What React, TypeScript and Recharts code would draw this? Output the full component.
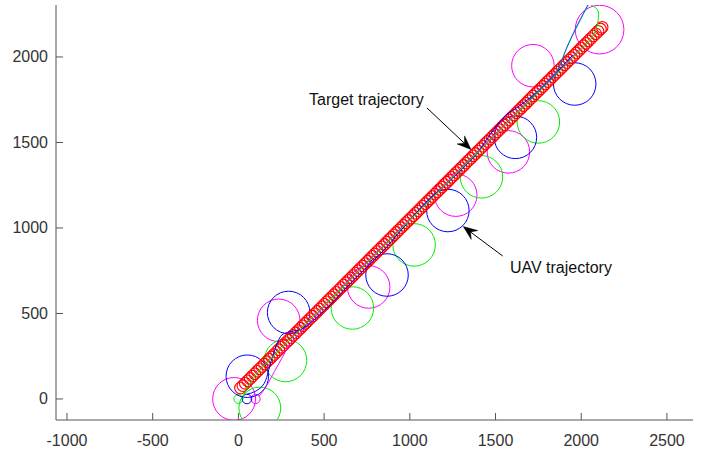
import { ScatterChart, Scatter, XAxis, YAxis, ReferenceLine, ReferenceDot } from 'recharts';

// target (red circle markers)
const targetX = [
  12, 26, 40, 54, 68, 82, 96, 110, 124, 138,
  152, 166, 180, 194, 208, 222, 236, 250, 264, 278,
  292, 306, 320, 334, 348, 362, 376, 390, 404, 418,
  432, 446, 460, 474, 488, 502, 516, 530, 544, 558,
  572, 586, 600, 614, 628, 642, 656, 670, 684, 698,
  712, 726, 740, 754, 768, 782, 796, 810, 824, 838,
  852, 866, 880, 894, 908, 922, 936, 950, 964, 978,
  992, 1006, 1020, 1034, 1048, 1062, 1076, 1090, 1104, 1118,
  1132, 1146, 1160, 1174, 1188, 1202, 1216, 1230, 1244, 1258,
  1272, 1286, 1300, 1314, 1328, 1342, 1356, 1370, 1384, 1398,
  1412, 1426, 1440, 1454, 1468, 1482, 1496, 1510, 1524, 1538,
  1552, 1566, 1580, 1594, 1608, 1622, 1636, 1650, 1664, 1678,
  1692, 1706, 1720, 1734, 1748, 1762, 1776, 1790, 1804, 1818,
  1832, 1846, 1860, 1874, 1888, 1902, 1916, 1930, 1944, 1958,
  1972, 1986, 2000, 2014, 2028, 2042, 2056, 2070, 2084, 2098,
  2112, 2122,
];
const targetY = [
  64, 78, 92, 106, 120, 134, 148, 162, 176, 190,
  204, 218, 232, 246, 260, 274, 288, 302, 316, 330,
  344, 358, 372, 386, 400, 414, 428, 442, 456, 470,
  484, 498, 512, 526, 540, 554, 568, 582, 596, 610,
  624, 638, 652, 666, 680, 694, 708, 722, 736, 750,
  764, 778, 792, 806, 820, 834, 848, 862, 876, 890,
  904, 918, 932, 946, 960, 974, 988, 1002, 1016, 1030,
  1044, 1058, 1072, 1086, 1100, 1114, 1128, 1142, 1156, 1170,
  1184, 1198, 1212, 1226, 1240, 1254, 1268, 1282, 1296, 1310,
  1324, 1338, 1352, 1366, 1380, 1394, 1408, 1422, 1436, 1450,
  1464, 1478, 1492, 1506, 1520, 1534, 1548, 1562, 1576, 1590,
  1604, 1618, 1632, 1646, 1660, 1674, 1688, 1702, 1716, 1730,
  1744, 1758, 1772, 1786, 1800, 1814, 1828, 1842, 1856, 1870,
  1884, 1898, 1912, 1926, 1940, 1954, 1968, 1982, 1996, 2010,
  2024, 2038, 2052, 2066, 2080, 2094, 2108, 2122, 2136, 2150,
  2164, 2174,
];

// sensing circles [x, y, radius]
const blueRings = [[50, 0, 28], [52, 133, 124], [293, 506, 124], [867, 725, 124], [1222, 1102, 124], [1616, 1530, 124], [1962, 1842, 124]];
const greenRings = [[0, 0, 26], [125, -53, 122], [275, 225, 124], [665, 532, 124], [1025, 901, 124], [1418, 1299, 124], [1750, 1620, 124]];
const magentaRings = [[100, 0, 27], [-25, 0, 125], [235, 460, 124], [760, 655, 124], [1268, 1192, 124], [1575, 1445, 124], [1718, 1949, 124], [2107, 2160, 142]];

// UAV tracks [x, y]
const blueTrack = [
  [50, 28], [100, 45], [150, 90], [177, 170], [210, 280], [245, 364], [275, 385], [303, 394], [340, 400],
  [380, 415], [450, 470], [560, 575], [673, 696], [780, 800], [870, 895], [960, 1000], [1062, 1115],
  [1120, 1175], [1200, 1245], [1300, 1340], [1393, 1437], [1450, 1520], [1509, 1600], [1560, 1660],
  [1604, 1690], [1700, 1760], [1800, 1850], [1880, 1935], [1950, 2010],
];
const greenTrack = [
  [26, 0], [40, 40], [80, 110], [150, 195], [250, 295], [400, 445], [600, 645], [800, 845], [1000, 1045],
  [1200, 1245], [1400, 1445], [1600, 1645], [1800, 1845], [2000, 2045], [2060, 2110], [2085, 2160],
  [2097, 2205], [2102, 2246], [2095, 2276], [2078, 2292], [2054, 2306],
];
const magentaTrack = [
  [120, 15], [160, 70], [210, 160], [260, 250], [300, 320], [345, 370], [420, 450], [600, 650], [800, 850],
  [1000, 1050], [1200, 1250], [1400, 1450], [1600, 1650], [1800, 1850], [2000, 2050],
];
const tealTrack = [[1700, 1750], [1780, 1830], [1840, 1890], [1880, 1960], [1910, 2040], [1960, 2150], [2000, 2230], [2045, 2315]];

const xTicks = [-1000, -500, 0, 500, 1000, 1500, 2000, 2500];
const yTicks = [0, 500, 1000, 1500, 2000];

const X_MIN = -1064;
const X_MAX = 2652;
const Y_MIN = -123;
const Y_MAX = 2304;
const PLOT_W = 637;
const PX_PER_UNIT = PLOT_W / (X_MAX - X_MIN);

const FONT = '"Liberation Sans", Arial, Helvetica, sans-serif';
const AXIS = '#555555';
const TEXT = '#333333';

const targetData = targetX.map((x, i) => ({ x, y: targetY[i] }));
const toRings = (rows: number[][]) => rows.map(([x, y, r]) => ({ x, y, r }));
const toPts = (rows: number[][]) => rows.map(([x, y]) => ({ x, y }));

const ring = (color: string) => (p: any) => (
  <circle cx={p.cx} cy={p.cy} r={p.payload.r * PX_PER_UNIT} fill="none" stroke={color} strokeWidth={1} />
);
const marker = (p: any) => <circle cx={p.cx} cy={p.cy} r={5.8} fill="none" stroke="#ff0000" strokeWidth={1.1} />;
const noDot = () => <g />;

const XTick = ({ x, y, payload }: any) => (
  <g>
    <line x1={x} y1={y} x2={x} y2={y - 7} stroke={AXIS} />
    <text x={x} y={y + 20} textAnchor="middle" dominantBaseline="central" fill={TEXT} fontSize={16} fontFamily={FONT}>
      {payload.value}
    </text>
  </g>
);

const YTick = ({ x, y, payload }: any) => (
  <g>
    <line x1={x} y1={y} x2={x + 7} y2={y} stroke={AXIS} />
    <text x={x - 8} y={y} textAnchor="end" dominantBaseline="central" fill={TEXT} fontSize={16} fontFamily={FONT}>
      {payload.value}
    </text>
  </g>
);

const Arrow = (p: any) => {
  const { x1, y1, x2, y2 } = p;
  const a = Math.atan2(y2 - y1, x2 - x1);
  const c = Math.cos(a);
  const s = Math.sin(a);
  const L = 14;
  const W = 5.5;
  const N = 9;
  const bx = x2 - L * c;
  const by = y2 - L * s;
  const nx = x2 - N * c;
  const ny = y2 - N * s;
  const pts = `${x2},${y2} ${bx - W * s},${by + W * c} ${nx},${ny} ${bx + W * s},${by - W * c}`;
  return (
    <g>
      <line x1={x1} y1={y1} x2={nx} y2={ny} stroke="#000" strokeWidth={1} />
      <polygon points={pts} fill="#000" stroke="#000" strokeWidth={0.5} />
    </g>
  );
};

const label = (text: string, anchor: 'start' | 'middle') => (p: any) => (
  <text x={p.cx} y={p.cy} textAnchor={anchor} dominantBaseline="central" fill="#111" fontSize={16} fontFamily={FONT}>
    {text}
  </text>
);

export default function App() {
  return (
    <div style={{ position: 'absolute', left: 0, top: 0, background: '#fff' }}>
      <ScatterChart width={704} height={451} margin={{ top: 5, right: 11, bottom: 0, left: 0 }}>
        <XAxis
          type="number"
          dataKey="x"
          domain={[X_MIN, X_MAX]}
          allowDataOverflow
          ticks={xTicks}
          height={31}
          tickSize={0}
          tickMargin={0}
          tickLine={false}
          axisLine={{ stroke: AXIS }}
          tick={<XTick />}
        />
        <YAxis
          type="number"
          dataKey="y"
          domain={[Y_MIN, Y_MAX]}
          allowDataOverflow
          ticks={yTicks}
          width={56}
          tickSize={0}
          tickMargin={0}
          tickLine={false}
          axisLine={{ stroke: AXIS }}
          tick={<YTick />}
        />
        <Scatter data={toRings(magentaRings)} shape={ring('#ff00ff')} isAnimationActive={false} />
        <Scatter data={toRings(greenRings)} shape={ring('#00ee00')} isAnimationActive={false} />
        <Scatter data={toRings(blueRings)} shape={ring('#0000ff')} isAnimationActive={false} />
        <Scatter data={targetData} shape={marker} isAnimationActive={false} />
        <Scatter data={toPts(magentaTrack)} shape={noDot} line={{ stroke: '#ff00ff', strokeWidth: 1 }} lineJointType="natural" isAnimationActive={false} />
        <Scatter data={toPts(blueTrack)} shape={noDot} line={{ stroke: '#0000ff', strokeWidth: 1 }} lineJointType="natural" isAnimationActive={false} />
        <Scatter data={toPts(greenTrack)} shape={noDot} line={{ stroke: '#00ee00', strokeWidth: 1 }} lineJointType="natural" isAnimationActive={false} />
        <Scatter data={toPts(tealTrack)} shape={noDot} line={{ stroke: '#0072bd', strokeWidth: 1.2 }} lineJointType="natural" isAnimationActive={false} />
        <ReferenceLine segment={[{ x: 1100, y: 1702 }, { x: 1357, y: 1459 }]} shape={Arrow} />
        <ReferenceLine segment={[{ x: 1542, y: 836 }, { x: 1312, y: 1008 }]} shape={Arrow} />
        <ReferenceDot x={747} y={1749} r={0} shape={label('Target trajectory', 'middle')} />
        <ReferenceDot x={1584} y={766} r={0} shape={label('UAV trajectory', 'start')} />
      </ScatterChart>
    </div>
  );
}
